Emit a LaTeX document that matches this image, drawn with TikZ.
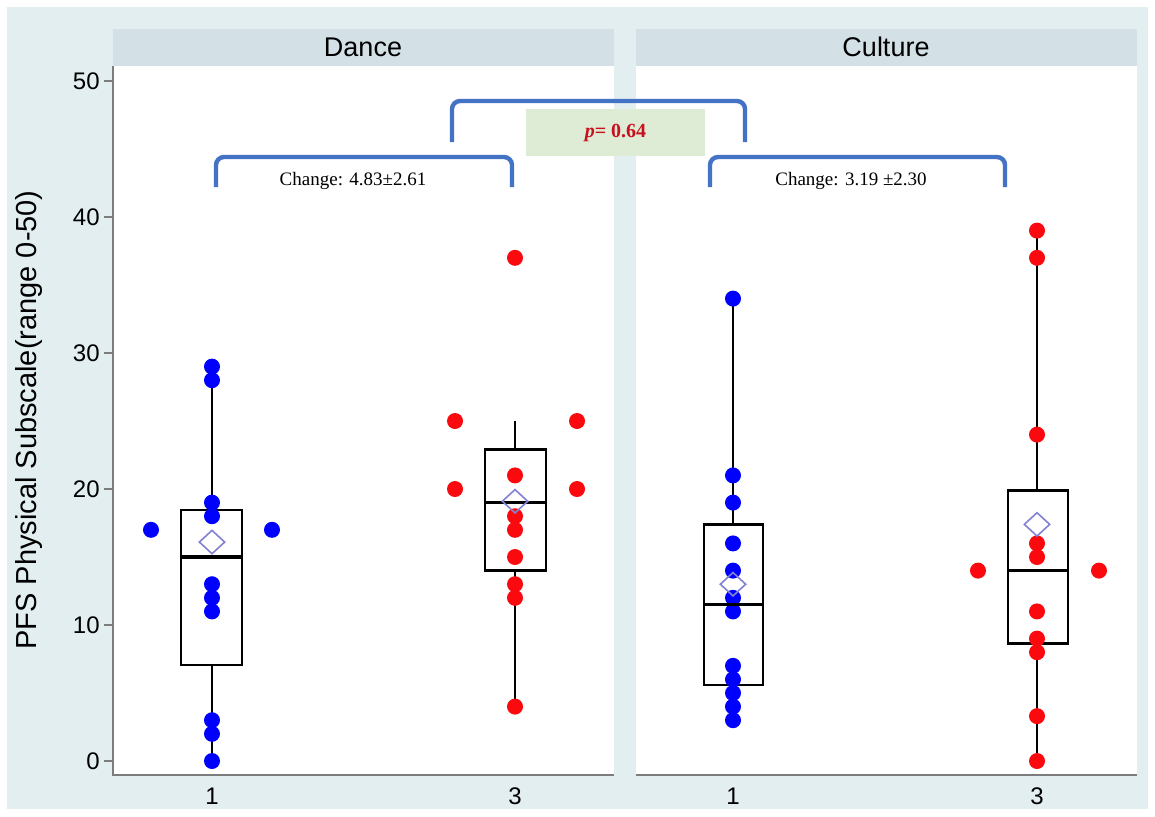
\documentclass[tikz,border=0pt]{standalone}
\usepackage{fontspec}
\setmainfont{Liberation Sans}
\newfontfamily\timesrm{Liberation Serif}
\usetikzlibrary{shapes.geometric,positioning}
\definecolor{plotbg}{RGB}{226,238,240}
\definecolor{stripbg}{RGB}{211,225,231}
\definecolor{axisgray}{RGB}{125,125,125}
\definecolor{bracketblue}{RGB}{68,114,196}
\definecolor{pboxgreen}{RGB}{222,236,213}
\definecolor{pred}{RGB}{200,16,30}
\definecolor{meanviolet}{RGB}{130,130,210}
\definecolor{ptblue}{RGB}{0,0,255}
\definecolor{ptred}{RGB}{250,10,15}

\begin{document}
\begin{tikzpicture}[x=0.5pt, y=-0.5pt,
    bluept/.style={circle, fill=ptblue, draw=none, inner sep=0pt, minimum size=8pt},
    redpt/.style={circle, fill=ptred, draw=none, inner sep=0pt, minimum size=8pt},
    meanpt/.style={diamond, draw=meanviolet, line width=0.8pt, inner sep=0pt, minimum width=13pt, minimum height=12pt},
    boxline/.style={draw=black, line width=1.2pt},
    medline/.style={draw=black, line width=1.8pt},
    whisk/.style={draw=black, line width=1.2pt},
    axisline/.style={draw=axisgray, line width=1.2pt},
    bracket/.style={draw=bracketblue, line width=2.2pt, rounded corners=4pt},
    ticklab/.style={font=\fontsize{12}{14}\selectfont, inner sep=1pt},
    striplab/.style={font=\fontsize{13.5}{15}\selectfont},
    chglab/.style={font=\timesrm\fontsize{9.5}{11}\selectfont}]
\useasboundingbox (0,0) rectangle (1155,816);
% background, strips and panels
\fill[plotbg] (7,7) rectangle (1148,809);
\fill[stripbg] (113,29) rectangle (614,66);
\fill[stripbg] (636,29) rectangle (1137,66);
\fill[white] (113,66) rectangle (614,775);
\fill[white] (636,66) rectangle (1137,775);
\node[striplab] (dancehead) at (363,47) {Dance};
\node[striplab] (culturehead) at (886,47) {Culture};
\draw[axisline] (113,66) -- (113,775) -- (614,775);
\draw[axisline] (636,775) -- (1137,775);
\node[ticklab] (x1a) at (212,796) {1};
\node[ticklab] (x3a) at (515,796) {3};
\node[ticklab] (x1b) at (733,796) {1};
\node[ticklab] (x3b) at (1037,796) {3};
\node[rotate=90, font=\fontsize{14.5}{16}\selectfont] (ylab) at (29,420) {PFS Physical Subscale(range 0-50)};
% brackets and p value
\coordinate (bl0) at (216,187);
\coordinate (bl1) at (216,157);
\coordinate (bl2) at (512,157);
\coordinate (bl3) at (512,187);
\coordinate (br0) at (710,187);
\coordinate (br1) at (710,157);
\coordinate (br2) at (1005,157);
\coordinate (br3) at (1005,187);
\coordinate (bt0) at (452,142);
\coordinate (bt1) at (452,101);
\coordinate (bt2) at (745,101);
\coordinate (bt3) at (745,142);
\node[fill=pboxgreen, minimum width=89.5pt, minimum height=23.5pt, inner sep=0pt] (pval) at (615.5,132.5) {};
\draw[bracket] (bl0) -- (bl1) -- (bl2) -- (bl3);
\draw[bracket] (br0) -- (br1) -- (br2) -- (br3);
\draw[bracket] (bt0) -- (bt1) -- (bt2) -- (bt3);
\node[text=pred, font=\timesrm\bfseries\fontsize{10}{12}\selectfont] (ptext) at (pval) {\textit{p}= 0.64};
\node[chglab] (chgdance) at (353,181) {Change: 4.83±2.61};
\node[chglab] (chgculture) at (851,181) {Change: 3.19 ±2.30};
\begin{scope}[shift={(0,761)}, x=0.5pt, y=6.8pt]
% y axis
\draw[axisline] (104,0) -- (113,0);
\draw[axisline] (104,10) -- (113,10);
\draw[axisline] (104,20) -- (113,20);
\draw[axisline] (104,30) -- (113,30);
\draw[axisline] (104,40) -- (113,40);
\draw[axisline] (104,50) -- (113,50);
\node[ticklab, anchor=east] (y0) at (102,0) {0};
\node[ticklab, anchor=east] (y10) at (102,10) {10};
\node[ticklab, anchor=east] (y20) at (102,20) {20};
\node[ticklab, anchor=east] (y30) at (102,30) {30};
\node[ticklab, anchor=east] (y40) at (102,40) {40};
\node[ticklab, anchor=east] (y50) at (102,50) {50};
% boxes and whiskers
\draw[whisk] (212,0) -- (212,7.05);
\draw[whisk] (212,18.45) -- (212,29);
\draw[boxline] (181,7.05) rectangle (242,18.45);
\draw[whisk] (515,4) -- (515,14);
\draw[whisk] (515,22.9) -- (515,25);
\draw[boxline] (485,14) rectangle (546,22.9);
\draw[whisk] (733,3) -- (733,5.6);
\draw[whisk] (733,17.4) -- (733,34);
\draw[boxline] (704,5.6) rectangle (763,17.4);
\draw[whisk] (1037,0) -- (1037,8.65);
\draw[whisk] (1037,19.9) -- (1037,39);
\draw[boxline] (1008,8.65) rectangle (1068,19.9);
% Dance, time 1
\node[bluept] (d1a) at (212,29) {};
\node[bluept] (d1b) at (212,28) {};
\node[bluept] (d1c) at (212,19) {};
\node[bluept] (d1d) at (212,18) {};
\node[bluept] (d1e) at (151,17) {};
\node[bluept] (d1f) at (272,17) {};
\node[bluept] (d1g) at (212,13) {};
\node[bluept] (d1h) at (212,12) {};
\node[bluept] (d1i) at (212,11) {};
\node[bluept] (d1j) at (212,3) {};
\node[bluept] (d1k) at (212,2) {};
\node[bluept] (d1l) at (212,0) {};
% Dance, time 3
\node[redpt] (d3a) at (515,37) {};
\node[redpt] (d3b) at (455,25) {};
\node[redpt] (d3c) at (577,25) {};
\node[redpt] (d3d) at (515,21) {};
\node[redpt] (d3e) at (455,20) {};
\node[redpt] (d3f) at (577,20) {};
\node[redpt] (d3g) at (515,18) {};
\node[redpt] (d3h) at (515,17) {};
\node[redpt] (d3i) at (515,15) {};
\node[redpt] (d3j) at (515,13) {};
\node[redpt] (d3k) at (515,12) {};
\node[redpt] (d3l) at (515,4) {};
% Culture, time 1
\node[bluept] (c1a) at (733,34) {};
\node[bluept] (c1b) at (733,21) {};
\node[bluept] (c1c) at (733,19) {};
\node[bluept] (c1d) at (733,16) {};
\node[bluept] (c1e) at (733,14) {};
\node[bluept] (c1f) at (733,12) {};
\node[bluept] (c1g) at (733,11) {};
\node[bluept] (c1h) at (733,7) {};
\node[bluept] (c1i) at (733,6) {};
\node[bluept] (c1j) at (733,5) {};
\node[bluept] (c1k) at (733,4) {};
\node[bluept] (c1l) at (733,3) {};
% Culture, time 3
\node[redpt] (c3a) at (1037,39) {};
\node[redpt] (c3b) at (1037,37) {};
\node[redpt] (c3c) at (1037,24) {};
\node[redpt] (c3d) at (1037,16) {};
\node[redpt] (c3e) at (1037,15) {};
\node[redpt] (c3f) at (978,14) {};
\node[redpt] (c3g) at (1099,14) {};
\node[redpt] (c3h) at (1037,11) {};
\node[redpt] (c3i) at (1037,9) {};
\node[redpt] (c3j) at (1037,8) {};
\node[redpt] (c3k) at (1037,3.3) {};
\node[redpt] (c3l) at (1037,0) {};
% medians and means
\draw[medline] (181,15) -- (242,15);
\draw[medline] (485,19) -- (546,19);
\draw[medline] (704,11.5) -- (763,11.5);
\draw[medline] (1008,14) -- (1068,14);
\node[meanpt] (m1) at (212,16.1) {};
\node[meanpt] (m2) at (515,19.1) {};
\node[meanpt] (m3) at (733,13) {};
\node[meanpt] (m4) at (1037,17.4) {};
\end{scope}
\end{tikzpicture}
\end{document}
